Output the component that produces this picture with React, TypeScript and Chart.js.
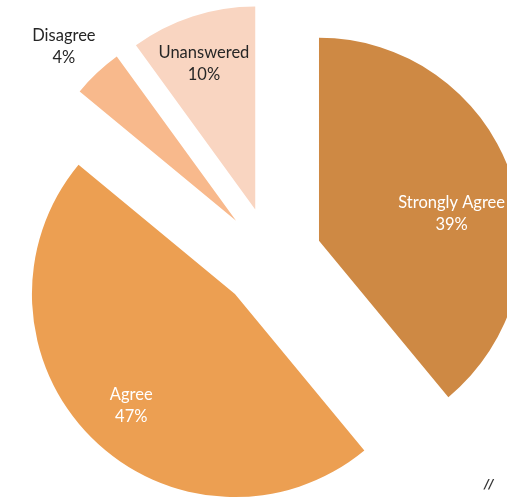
import React, { useEffect, useRef } from "react";
import { Chart, registerables } from "chart.js";

Chart.register(...registerables);

const categories = ["Strongly Agree", "Agree", "Disagree", "Unanswered"];
const percentValues = [39, 47, 4, 10];
const percentLabels = ["39%", "47%", "4%", "10%"];

const sliceColors = ["#CE8944", "#EC9F52", "#F8B98C", "#F9D5C1"];
const labelColors = ["#FFFFFF", "#FFFFFF", "#262626", "#262626"];
// explosion distance of each slice (px)
const explodeDistances = [51, 51, 51, 51];
// label placement relative to each slice: distance from pie centre and angle shift (degrees)
const labelDistances = [186, 203, 296, 206];
const labelAngleShifts = [6, -1.5, -1.2, -1];

const explodePlugin = {
  id: "explodedSlices",
  beforeDatasetsDraw(chart: any) {
    const meta = chart.getDatasetMeta(0);
    const ctx = chart.ctx;
    meta.data.forEach((arc: any, i: number) => {
      const p = arc.getProps(["startAngle", "endAngle"], true);
      const mid = (p.startAngle + p.endAngle) / 2;
      ctx.save();
      ctx.translate(Math.cos(mid) * explodeDistances[i], Math.sin(mid) * explodeDistances[i]);
      arc.draw(ctx, chart.chartArea);
      ctx.restore();
    });
    return false;
  },
  afterDraw(chart: any) {
    const meta = chart.getDatasetMeta(0);
    const ctx = chart.ctx;
    ctx.save();
    ctx.font = "16.5px Lato, 'Open Sans', sans-serif";
    ctx.textAlign = "center";
    ctx.textBaseline = "middle";
    meta.data.forEach((arc: any, i: number) => {
      const p = arc.getProps(["x", "y", "startAngle", "endAngle"], true);
      const mid = (p.startAngle + p.endAngle) / 2 + (labelAngleShifts[i] * Math.PI) / 180;
      const d = labelDistances[i];
      const x = p.x + Math.cos(mid) * d;
      const y = p.y + Math.sin(mid) * d;
      ctx.fillStyle = labelColors[i];
      ctx.fillText(categories[i], x, y - 11);
      ctx.fillText(percentLabels[i], x, y + 11);
    });
    ctx.fillStyle = "#333333";
    ctx.font = "bold italic 12px 'DejaVu Sans', sans-serif";
    ctx.fillText("//", 489, 485);
    ctx.restore();
  },
};

export default function App() {
  const ref = useRef<HTMLCanvasElement | null>(null);
  useEffect(() => {
    if (!ref.current) return;
    const chart = new Chart(ref.current, {
      type: "pie",
      data: {
        labels: categories,
        datasets: [
          {
            data: percentValues,
            backgroundColor: sliceColors,
            borderWidth: 0,
            offset: 0,
            hoverOffset: 0,
          },
        ],
      },
      options: {
        responsive: false,
        animation: false,
        radius: 203,
        layout: { padding: { left: 35, top: 18, right: 0, bottom: 0 } },
        plugins: {
          legend: { display: false },
          tooltip: { enabled: false },
        },
      } as any,
      plugins: [explodePlugin],
    });
    return () => chart.destroy();
  }, []);
  return (
    <div style={{ position: "absolute", left: 0, top: 0, width: 507, height: 498, overflow: "hidden" }}>
      <canvas ref={ref} width={507} height={498} />
    </div>
  );
}
